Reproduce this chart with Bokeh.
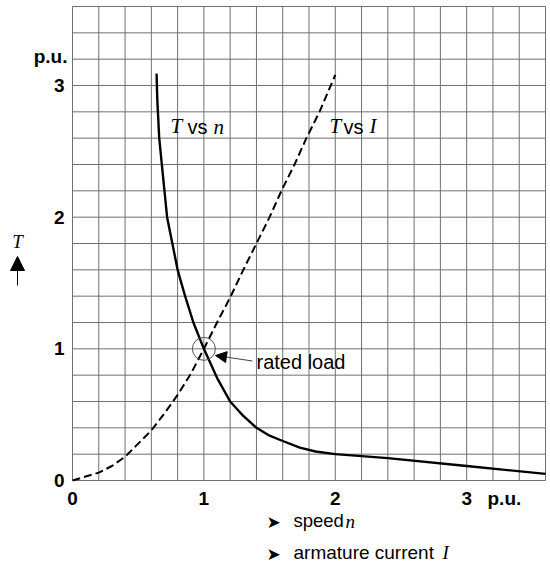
import numpy as np
from bokeh.plotting import figure
from bokeh.models import Label, Arrow, NormalHead, Range1d
from bokeh.core.properties import value
from bokeh.embed import file_html
from bokeh.resources import INLINE

# ---- data (per-unit values) ----
speed_n = [0.64, 0.645, 0.66, 0.68, 0.70, 0.72, 0.76, 0.80, 0.86, 0.92, 1.0, 1.1, 1.2,
           1.3, 1.4, 1.5, 1.6, 1.73, 1.85, 2.0, 2.4, 3.0, 3.6]
torque_vs_n = [3.09, 2.9, 2.6, 2.4, 2.2, 2.0, 1.8, 1.6, 1.39, 1.2, 1.0, 0.78, 0.6,
               0.49, 0.4, 0.34, 0.30, 0.25, 0.22, 0.20, 0.17, 0.11, 0.05]
current_I = [0.0, 0.2, 0.3, 0.4, 0.5, 0.6, 0.7, 0.8, 0.9, 1.0, 1.1, 1.2, 1.3, 1.4,
             1.5, 1.59, 1.69, 1.78, 1.88, 2.0]
torque_vs_I = [0.0, 0.06, 0.11, 0.18, 0.28, 0.38, 0.51, 0.65, 0.81, 1.0, 1.2, 1.39, 1.6,
               1.8, 2.0, 2.2, 2.4, 2.6, 2.8, 3.08]
rated_point = [1.0, 1.0]
tick_values = [0, 1, 2, 3]
tick_labels = ["0", "1", "2", "3"]
axis_max = 3.6

SANS = "Liberation Sans"
SERIF = "Liberation Serif"

W, H = 550, 566
# the graph area occupies page pixels x 72..545, y 6..480
SX = 473 / axis_max
SY = 474 / axis_max

def dx(px):
    return (px - 72) / SX

def dy(py):
    return (480 - py) / SY

p = figure(width=W, height=H, output_backend="svg", toolbar_location=None,
           x_range=Range1d(dx(0), dx(W)), y_range=Range1d(dy(H), dy(0)),
           x_axis_location=None, y_axis_location=None,
           min_border=0)
p.grid.visible = False
p.outline_line_color = None
p.background_fill_color = "white"
p.border_fill_color = "white"

# graph-paper grid
grid_ticks = list(np.round(np.arange(0, axis_max + 0.01, 0.2), 2))
n = len(grid_ticks)
p.segment(x0=grid_ticks, y0=[0] * n, x1=grid_ticks, y1=[axis_max] * n,
          line_color="#707070", line_width=1)
p.segment(x0=[0] * n, y0=grid_ticks, x1=[axis_max] * n, y1=grid_ticks,
          line_color="#707070", line_width=1)

# tick labels
k = len(tick_values)
p.text(x=tick_values, y=[dy(498)] * k, text=tick_labels, text_font=value(SANS),
       text_font_style="bold", text_font_size="19px", text_align="center",
       text_baseline="middle", text_color="black")
p.text(x=[dx(64)] * k, y=tick_values, text=tick_labels, text_font=value(SANS),
       text_font_style="bold", text_font_size="19px", text_align="right",
       text_baseline="middle", text_color="black")

# curves
p.line(current_I, torque_vs_I, line_color="black", line_width=2, line_dash="8 4")
p.line(speed_n, torque_vs_n, line_color="black", line_width=2.4, line_join="round")
p.scatter([rated_point[0]], [rated_point[1]], marker="circle", size=23,
          fill_color=None, line_color="#555555", line_width=1)

def lab(text, px, py, font=SANS, size="20px", style="normal", align="left"):
    p.add_layout(Label(x=dx(px), y=dy(py), text=text, text_font=font,
                       text_font_size=size, text_font_style=style,
                       text_align=align, text_baseline="middle", text_color="black"))

# axis units
lab("p.u.", 67, 56, style="bold", size="19px", align="right")
lab("p.u.", 487, 498, style="bold", size="19px")

# T with upward arrow
lab("T", 17, 241, font=SERIF, style="italic", size="19px", align="center")
p.add_layout(Arrow(end=NormalHead(size=14, fill_color="black", line_color="black"),
                   x_start=dx(17), y_start=dy(285), x_end=dx(17), y_end=dy(256),
                   line_color="black", line_width=1))

# curve labels
lab("T", 170, 125, font=SERIF, style="italic", size="21px")
lab("vs", 187, 126, size="20px")
lab("n", 213, 126, font=SERIF, style="italic", size="21px")
lab("T", 329, 125, font=SERIF, style="italic", size="21px")
lab("vs", 343, 126, size="20px")
lab("I", 369, 125, font=SERIF, style="italic", size="21px")

# rated load annotation
p.add_layout(Arrow(end=NormalHead(size=11, fill_color="black", line_color="black"),
                   x_start=dx(252), y_start=dy(360.5), x_end=dx(215), y_end=dy(355),
                   line_color="#444444", line_width=1))
lab("rated load", 256, 361, size="20px")

# x-axis captions
lab("\u27a4", 266, 521, font="DejaVu Sans", size="17px")
lab("speed", 293, 520, size="18.5px")
lab("n", 345, 521, font=SERIF, style="italic", size="19px")
lab("\u27a4", 266, 553, font="DejaVu Sans", size="17px")
lab("armature current", 293, 552, size="19px")
lab("I", 442, 552, font=SERIF, style="italic", size="19px")

open("out.html", "w").write(file_html(p, INLINE))
